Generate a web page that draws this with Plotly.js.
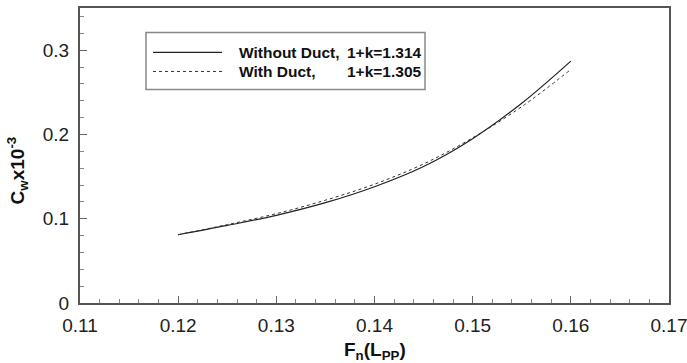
<!DOCTYPE html>
<html>
<head>
<meta charset="utf-8">
<script src="https://cdn.plot.ly/plotly-3.0.1.min.js"></script>
<style>html,body{margin:0;padding:0;background:#fff;}#chart{width:687px;height:363px;}</style>
</head>
<body>
<div id="chart"></div>
<script>
// Froude number values
var fn = [0.12, 0.125, 0.13, 0.135, 0.14, 0.145, 0.15, 0.155, 0.16];
// Wave resistance coefficient Cw x 10^-3
var cwWithoutDuct = [0.081, 0.092, 0.104, 0.119, 0.138, 0.162, 0.195, 0.237, 0.287];
var cwWithDuct    = [0.081, 0.093, 0.106, 0.122, 0.141, 0.165, 0.196, 0.233, 0.277];
var seriesNames = ["Without Duct,", "With Duct,"];
var seriesK = ["1+k=1.314", "1+k=1.305"];
var xTicks = [0.11, 0.12, 0.13, 0.14, 0.15, 0.16, 0.17];
var yTicks = [0, 0.1, 0.2, 0.3];

var FONT = 'Liberation Sans, Arial, Helvetica, sans-serif';

var traces = [
  {x: fn, y: cwWithoutDuct, mode: 'lines', name: seriesNames[0] + ' ' + seriesK[0],
   line: {color: '#222', width: 1.2, shape: 'spline'}, showlegend: false},
  {x: fn, y: cwWithDuct, mode: 'lines', name: seriesNames[1] + ' ' + seriesK[1],
   line: {color: '#333', width: 1, dash: '3px,3px', shape: 'spline'}, showlegend: false}
];

var axisCommon = {
  showgrid: false, zeroline: false,
  showline: true, linecolor: '#555', linewidth: 2, mirror: true,
  ticks: 'inside', ticklen: 7, tickwidth: 1, tickcolor: '#666',
  ticklabeloverflow: 'allow',
  tickfont: {family: FONT, size: 19, color: '#222'}
};

// legend drawn by hand to match long sample lines
function px2x(p){ return (p - 80) / 589; }
function py2y(p){ return (302.7 - p) / 295.2; }
var rowY = [52, 71];
var shapes = [
  {type: 'rect', xref: 'paper', yref: 'paper', x0: px2x(146), x1: px2x(425), y0: py2y(89), y1: py2y(32),
   line: {color: '#888', width: 1.5}, fillcolor: 'rgba(0,0,0,0)'}
];
var annotations = [];
for (var i = 0; i < 2; i++) {
  shapes.push({type: 'line', xref: 'paper', yref: 'paper', x0: px2x(153), x1: px2x(222), y0: py2y(rowY[i]), y1: py2y(rowY[i]),
    line: {color: i === 0 ? '#222' : '#333', width: i === 0 ? 1.2 : 1, dash: i === 0 ? 'solid' : '3px,3px'}});
  annotations.push({xref: 'paper', yref: 'paper', x: px2x(237), y: py2y(rowY[i]), xanchor: 'left', yanchor: 'middle',
    text: '<b>' + seriesNames[i] + '</b>', showarrow: false, font: {family: FONT, size: 15.5, color: '#111'}});
  annotations.push({xref: 'paper', yref: 'paper', x: px2x(345), y: py2y(rowY[i]), xanchor: 'left', yanchor: 'middle',
    text: '<b>' + seriesK[i] + '</b>', showarrow: false, font: {family: FONT, size: 15.5, color: '#111'}});
}
annotations.push({xref: 'paper', yref: 'paper', x: 0.5, y: py2y(351), xanchor: 'center', yanchor: 'middle',
  text: '<b>F<sub>n</sub>(L<sub>PP</sub>)</b>', showarrow: false, font: {family: FONT, size: 19, color: '#111'}});
annotations.push({xref: 'paper', yref: 'paper', x: px2x(17), y: py2y(170), xanchor: 'center', yanchor: 'middle', textangle: -90,
  text: '<b>C<sub>w</sub>x10<sup>-3</sup></b>', showarrow: false, font: {family: FONT, size: 19, color: '#111'}});

var layout = {
  width: 687, height: 363,
  margin: {l: 80, r: 18, t: 8, b: 60},
  paper_bgcolor: '#fff', plot_bgcolor: '#fff',
  xaxis: Object.assign({}, axisCommon, {range: [0.11, 0.17], tickvals: xTicks, ticktext: xTicks.map(function(v){return v.toFixed(2);}),
    ticklabelstandoff: 4,
    minor: {dtick: 0.002, ticks: 'inside', ticklen: 4, tickcolor: '#888', tickwidth: 1}}),
  yaxis: Object.assign({}, axisCommon, {range: [0, 0.35], tickvals: yTicks, ticktext: yTicks.map(function(v){return v === 0 ? '0' : v.toFixed(1);}),
    ticklabelstandoff: 5,
    minor: {dtick: 0.02, ticks: 'inside', ticklen: 4, tickcolor: '#888', tickwidth: 1}}),
  shapes: shapes,
  annotations: annotations,
  showlegend: false
};

Plotly.newPlot('chart', traces, layout, {staticPlot: true, displayModeBar: false});
</script>
</body>
</html>
